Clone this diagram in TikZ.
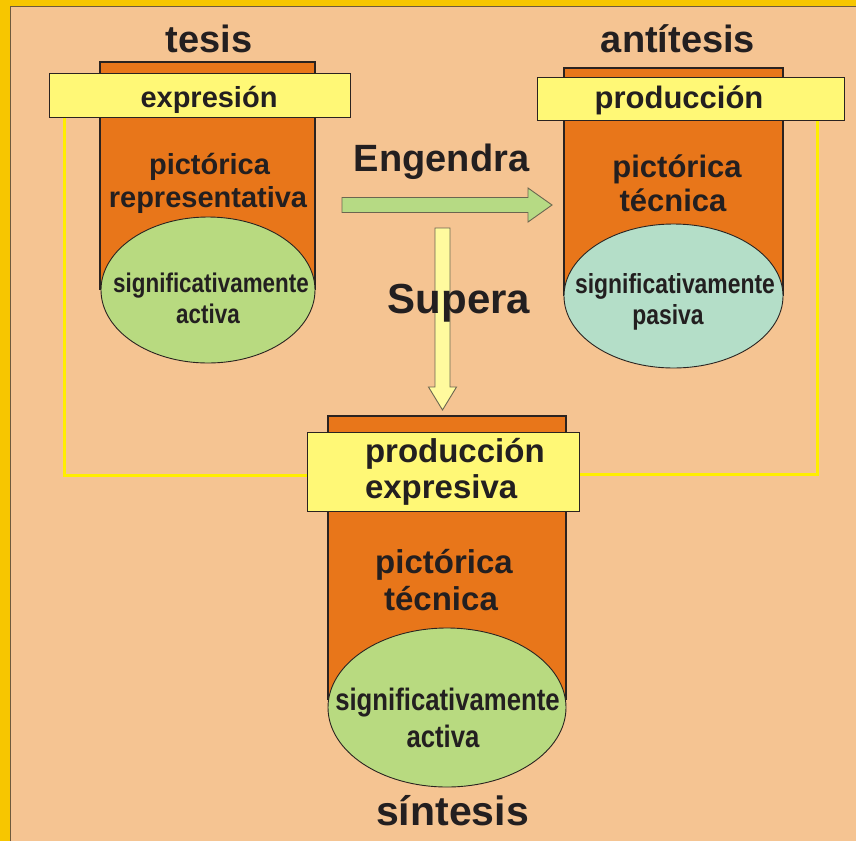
\documentclass[tikz,border=0pt]{standalone}
\usepackage{fontspec}
\setmainfont{Liberation Sans}
\newfontfamily\narrowsans{Liberation Sans}[FakeStretch=0.83]
\usetikzlibrary{shapes.geometric,calc}

\definecolor{bg}{HTML}{F5C492}
\definecolor{frame}{HTML}{F7C600}
\definecolor{framedge}{HTML}{6E5A3C}
\definecolor{body}{HTML}{E8761A}
\definecolor{outline}{HTML}{2A2320}
\definecolor{labelfill}{HTML}{FFF876}
\definecolor{leaf}{HTML}{B8DA80}
\definecolor{mint}{HTML}{B4DEC8}
\definecolor{arrowgreen}{HTML}{B6DA84}
\definecolor{arrowyellow}{HTML}{FFFA9E}
\definecolor{arrowedge}{HTML}{6B6650}
\definecolor{linkyellow}{HTML}{FFEE00}
\definecolor{ink}{HTML}{231F20}

\begin{document}
\begin{tikzpicture}[x=1pt,y=-1pt,
  bodyshape/.style={fill=body,draw=outline,line width=1.2pt},
  bowl/.style={ellipse,draw=outline,line width=0.9pt,inner sep=0pt,outer sep=0pt},
  labelbox/.style={rectangle,fill=labelfill,draw=outline,line width=0.9pt,inner sep=0pt,outer sep=0pt},
  link/.style={draw=linkyellow,line width=3pt},
  flatarrow/.style={draw=arrowedge,line width=0.9pt,line join=miter},
  txt/.style={anchor=base,inner sep=0pt,outer sep=0pt,text=ink},
  title/.style={txt,font=\bfseries\fontsize{38}{40}\selectfont},
  bigtitle/.style={txt,font=\bfseries\fontsize{41}{44}\selectfont},
  wordA/.style={txt,font=\bfseries\fontsize{29}{33}\selectfont},
  wordB/.style={txt,font=\bfseries\fontsize{31}{35}\selectfont},
  wordC/.style={txt,font=\bfseries\fontsize{33}{37}\selectfont},
  narrowA/.style={txt,font=\narrowsans\bfseries\fontsize{27}{31}\selectfont},
  narrowB/.style={txt,font=\narrowsans\bfseries\fontsize{27.6}{31}\selectfont},
  narrowC/.style={txt,font=\narrowsans\bfseries\fontsize{31}{35}\selectfont}]
\useasboundingbox (0,0) rectangle (856,841);

% page background and frame
\fill[bg] (0,0) rectangle (856,841);
\fill[frame] (0,0) rectangle (856,6);
\fill[frame] (0,0) rectangle (9.5,841);
\draw[framedge,line width=1pt] (10,841) -- (10,6.5) -- (856,6.5);

% label bars (placed first so the links can reach them)
\node[labelbox,minimum width=301pt,minimum height=44pt] (boxA) at (199.5,95) {};
\node[labelbox,minimum width=307pt,minimum height=43pt] (boxB) at (690.5,98.5) {};
\node[labelbox,minimum width=272pt,minimum height=79pt] (boxC) at (443,471.5) {};

% yellow links from the upper bars to the lower bar
\draw[link] ([xshift=15pt]boxA.south west) |- ([yshift=-3.5pt]boxC.west);
\draw[link] ([xshift=-27pt]boxB.south east) |- ([yshift=-2.5pt]boxC.east);

% thesis container
\filldraw[bodyshape] (100,290) -- (100,62) -- (315,62) -- (315,290);
\node[bowl,fill=leaf,minimum width=214pt,minimum height=146pt] (ellA) at (208,290) {};

% antithesis container
\filldraw[bodyshape] (564,296) -- (564,68) -- (783,68) -- (783,296);
\node[bowl,fill=mint,minimum width=219pt,minimum height=144pt] (ellB) at (673.5,296) {};

% synthesis container
\filldraw[bodyshape] (328,700) -- (328,416) -- (566,416) -- (566,700);
\node[bowl,fill=leaf,minimum width=238pt,minimum height=159pt] (ellC) at (447,707.5) {};

% redraw the bars over the containers
\node[labelbox,minimum width=301pt,minimum height=44pt] at (boxA.center) {};
\node[labelbox,minimum width=307pt,minimum height=43pt] at (boxB.center) {};
\node[labelbox,minimum width=272pt,minimum height=79pt] at (boxC.center) {};

% block arrows
\coordinate (eTail) at (342,205);
\coordinate (eTip) at (552,205);
\filldraw[flatarrow,fill=arrowgreen]
  ($(eTail)+(0,-7.5)$) -- ++(186,0) -- ++(0,-9.5) -- (eTip)
  -- ++(-24,17) -- ++(0,-9.5) -- ++(-186,0) -- cycle;
\coordinate (sTail) at (442.5,228);
\coordinate (sTip) at (442.5,410);
\filldraw[flatarrow,fill=arrowyellow]
  ($(sTail)+(-7.5,0)$) -- ++(0,159) -- ++(-6.5,0) -- (sTip)
  -- ++(14,-23) -- ++(-6.5,0) -- ++(0,-159) -- cycle;

% titles
\node[title] (tTesis) at (209,52) {tesis};
\node[title] (tAnti) at (678,52) {antítesis};
\node[bigtitle] (tSint) at (452.5,825) {síntesis};
\node[title] (tEng) at (441.5,171) {Engendra};
\node[title,font=\bfseries\fontsize{42}{44}\selectfont] (tSup) at (459,313) {Supera};

% thesis texts
\node[wordA] (a1) at (209,107) {expresión};
\node[wordA] (a2) at (209.5,174) {pictórica};
\node[wordA] (a3) at (208,207) {representativa};
\node[narrowA] (a4) at (211,292) {significativamente};
\node[narrowA] (a5) at (208,323) {activa};

% antithesis texts
\node[wordB] (b1) at (679,108) {producción};
\node[wordB] (b2) at (677,177) {pictórica};
\node[wordB] (b3) at (673,211) {técnica};
\node[narrowB] (b4) at (675,293) {significativamente};
\node[narrowB] (b5) at (668,324) {pasiva};

% synthesis texts
\node[wordC,anchor=base west] (c1) at (365,462) {producción};
\node[wordC,anchor=base west] (c2) at (365,498) {expresiva};
\node[wordC] (c3) at (444,573) {pictórica};
\node[wordC] (c4) at (441,610) {técnica};
\node[narrowC] (c5) at (447.5,710) {significativamente};
\node[narrowC] (c6) at (443,747) {activa};
\end{tikzpicture}
\end{document}
